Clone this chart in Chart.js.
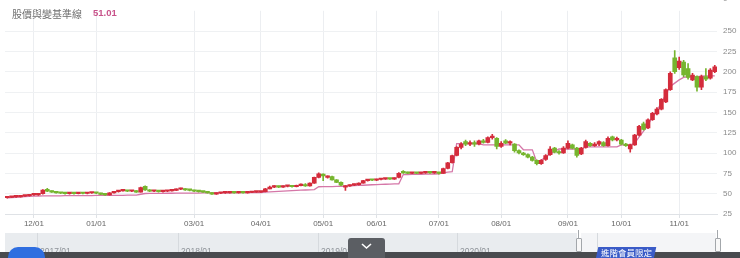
<!DOCTYPE html>
<html>
<head>
<meta charset="utf-8">
<script src="https://cdn.jsdelivr.net/npm/chart.js@4.4.0/dist/chart.umd.min.js"></script>
<style>
  body { margin: 0; background: #fff; font-family: "Liberation Sans", Arial, sans-serif; }
  #wrap { position: relative; width: 740px; height: 258px; overflow: hidden; background: #fff; }
  #chart { position: absolute; left: 0; top: 0; }
  .abs { position: absolute; }
  .title { left: 12px; top: 6px; font: 10px "Noto Sans CJK TC", sans-serif; color: #6e6e6e; }
  .val { left: 93px; top: 7px; font: 600 9.5px "Liberation Sans", Arial, sans-serif; color: #c8528a; }
  .zero { left: 723px; top: -6px; font: 8px "Liberation Sans", Arial, sans-serif; color: #8a8a8a; }
  .nav { top: 233px; height: 20px; }
  .sep { top: 233px; width: 1px; height: 20px; background: #d6dade; }
  .navlbl { top: 246px; font: 8.5px "Liberation Sans", Arial, sans-serif; color: #8d9298; }
  .handle { top: 238px; width: 4px; height: 12px; background: #f8f8f8; border: 1px solid #a3a7ab; border-radius: 1px; }
</style>
</head>
<body>
<div id="wrap">
  <canvas id="chart" width="740" height="232"></canvas>
  <div class="abs title">股價與變基準線</div>
  <div class="abs val">51.01</div>
  <div class="abs zero">0</div>

  <!-- navigator strip -->
  <div class="abs nav" style="left:5px;width:572px;background:#e9ecef;"></div>
  <div class="abs nav" style="left:581px;width:135px;background:#f4f5f7;"></div>
  <div class="abs sep" style="left:37px;"></div>
  <div class="abs sep" style="left:178px;"></div>
  <div class="abs sep" style="left:318px;"></div>
  <div class="abs sep" style="left:457px;"></div>
  <div class="abs sep" style="left:597px;"></div>
  <div class="abs navlbl" style="left:40px;">2017/01</div>
  <div class="abs navlbl" style="left:181px;">2018/01</div>
  <div class="abs navlbl" style="left:321px;">2019/01</div>
  <div class="abs navlbl" style="left:460px;">2020/01</div>
  <div class="abs" style="left:578px;top:230px;width:1px;height:8px;background:#a3a7ab;"></div>
  <div class="abs" style="left:717px;top:230px;width:1px;height:8px;background:#a3a7ab;"></div>
  <div class="abs handle" style="left:576px;"></div>
  <div class="abs handle" style="left:715px;"></div>
  <div class="abs" style="left:0;top:252px;width:740px;height:6px;background:#494b4f;"></div>
  <div class="abs" style="left:8px;top:247px;width:37px;height:14px;background:#2f6ee0;border-radius:10px 10px 0 0;"></div>
  <div class="abs" style="left:348px;top:238px;width:37px;height:20px;background:#5b5e63;border-radius:3px 3px 0 0;">
    <svg width="37" height="20"><polyline points="14,6 18.5,10 23,6" fill="none" stroke="#fff" stroke-width="1.6"/></svg>
  </div>
  <div class="abs" style="left:597px;top:247px;width:58px;height:12px;background:#3a5bc7;transform:skewX(-12deg);"></div>
  <div class="abs" style="left:601px;top:246px;font:8.5px 'Noto Sans CJK TC',sans-serif;color:#fff;">進階會員限定</div>
</div>

<script>
// ── Data (one candle per ~1.5 trading days) ────────────────────────────────
const opens = [
  45, 45.5, 46, 46, 47, 47.5, 48.5, 48.5, 50, 55.5,
  53, 52, 51, 50.5, 50, 50.5, 50, 50.8, 50.2, 50.8,
  51.2, 50.5, 49.2, 48.5, 51, 52.5, 53.5, 53.5, 53, 53.5,
  52, 59, 54.5, 53, 53, 52.5, 53, 53.5, 54, 55.5,
  56, 54.5, 54, 53, 52.5, 52, 51, 49.5, 50.5, 51,
  51, 51.5, 51, 51.5, 51, 51.5, 52, 52, 52.5, 56,
  58, 58.5, 58, 59, 59, 58.5, 60, 61, 59.5, 63,
  70, 74, 70, 71, 67, 64, 58, 59.5, 60.5, 61,
  63, 66, 67, 66.5, 67.5, 68, 68.5, 68, 70, 77,
  75.5, 75, 75.5, 75, 75.5, 76, 75.5, 75.5, 75, 81,
  88, 97, 107, 114, 111, 113, 111, 115, 113, 119,
  118, 108, 115, 112, 111, 103, 100, 98, 95, 91,
  87, 92, 98, 106, 101, 100, 106, 110, 106, 99,
  107, 112, 109, 111, 113, 109, 120, 116, 116, 111,
  105, 110, 122, 136, 131, 141, 148, 154, 163, 178,
  217, 205, 212, 204, 190, 194, 181, 194, 192, 200
];
const closes = [
  45.5, 46, 46, 47, 47.5, 48, 48.5, 50, 54.5, 53,
  52, 51, 50.5, 50, 50.5, 50, 50.8, 50.2, 50.8, 51.2,
  50.5, 49.2, 48.5, 51, 52.5, 53.5, 53.5, 53, 53.5, 52,
  57.5, 54.5, 53, 53, 52.5, 53, 53.5, 54, 55.5, 56,
  54.5, 54, 53, 52.5, 52, 51, 49.5, 50.5, 51, 51,
  51.5, 51, 51.5, 51, 51.5, 52, 52, 52.5, 56, 58,
  58.5, 58, 59, 59, 58.5, 60, 61, 59.5, 63, 70,
  74.5, 72, 71, 67, 64, 60.5, 59.5, 60.5, 61, 63,
  66, 67, 66.5, 67.5, 68, 68.5, 68, 69, 75, 75.5,
  75, 75.5, 75, 75.5, 76, 75.5, 75.5, 75, 81, 88,
  97, 107, 111, 111, 113, 111, 115, 113, 119, 121,
  108, 112, 112, 114, 103, 100, 98, 95, 91, 87,
  91, 97, 105, 101, 100, 106, 112, 106, 97, 106,
  114, 109, 111, 114, 109, 118, 116, 118, 111, 109,
  110, 122, 133, 129, 141, 149, 154, 166, 178, 198,
  200, 213, 196, 193, 196, 181, 194, 191, 202, 206
];
const highs = [
  46, 46.5, 46.8, 47.5, 48, 48.6, 49, 50.5, 55, 56.5,
  53.5, 52.3, 51.5, 51, 51, 51, 51.2, 51.2, 51.3, 51.8,
  51.5, 50.8, 49.5, 51.3, 53, 54, 54.2, 54, 54, 53.8,
  58, 59.8, 55, 53.5, 53.3, 53.5, 54, 54.5, 56, 57,
  56.3, 55, 54.3, 53.4, 53, 52.3, 51.2, 51, 51.5, 51.6,
  52, 52, 52, 51.8, 52, 52.5, 52.6, 53, 56.5, 59.5,
  60, 59.5, 59.8, 60, 59.6, 60.5, 62, 62.5, 63.5, 70.5,
  75.5, 74.5, 72, 71.5, 67.5, 64.5, 60, 61, 61.8, 63.5,
  66.5, 67.5, 67.5, 68, 68.6, 69, 69, 69.5, 76, 78.5,
  76.5, 76, 76, 76, 76.6, 76.5, 76.2, 76, 81.5, 88.5,
  97.5, 108, 113, 116, 115, 115, 116, 117, 120, 123,
  119, 114, 116.5, 115, 111.5, 104, 101, 99, 96, 91.5,
  92, 98, 108, 107, 103, 108, 115, 111, 107, 107,
  116, 113, 113, 115, 114, 120, 121, 119.5, 117, 112,
  111, 123, 134, 138, 142, 150, 156, 167, 179, 200,
  226, 218, 214, 210, 198, 195, 196, 204, 204, 208
];
const lows = [
  44.5, 45, 45.5, 45.8, 46.5, 47, 47.8, 48, 49.5, 52.5,
  51.5, 50.5, 50, 49.5, 49.5, 49.5, 49.6, 49.8, 49.8, 50.3,
  50, 48.8, 48, 48.2, 50.5, 52, 53, 52.5, 52.5, 51.5,
  51.8, 54, 52.5, 52.5, 52, 52, 52.6, 53, 53.8, 55,
  54, 53.5, 52.5, 52, 51.5, 50.5, 49, 49.2, 50, 50.4,
  50.6, 50.6, 50.6, 50.5, 50.7, 51.2, 51.5, 51.7, 52.3, 55.8,
  57.5, 57.5, 57.6, 58.2, 58, 58.2, 59.5, 59, 59.2, 62.5,
  69.5, 66, 69, 66.5, 63.5, 60, 54, 59, 60, 60.5,
  62.8, 65.5, 66, 66, 67, 67.5, 67.5, 67.5, 69.5, 75,
  74.5, 74.5, 74.5, 74.6, 75, 75, 75, 74, 74.8, 80.5,
  87.5, 96.5, 105, 109, 109, 108, 110, 112, 112.5, 117,
  105, 107, 111.5, 110, 101, 99, 97, 94, 90, 85.5,
  86, 91, 97, 100, 98.5, 99.5, 105, 105, 95, 98,
  106, 108, 108, 109, 108, 108.5, 115, 115, 110, 108,
  101, 109.5, 121, 128, 130, 140, 147, 153, 162, 177,
  198, 203, 194, 191, 189, 176, 178, 189, 191, 199
];
// pink baseline (steps up about once a month)
const baseline = [
  45, 45.3, 45.6, 46, 46.3, 46.6, 47, 47, 47.2, 47.3,
  47.3, 47.4, 47.4, 47.5, 47.5, 47.5, 47.6, 47.6, 47.7, 47.7,
  47.8, 47.8, 47.9, 47.9, 48, 48, 48, 48.1, 48.1, 48.2,
  49.3, 50.2, 50.3, 50.3, 50.4, 50.4, 50.5, 50.5, 50.6, 50.6,
  50.7, 50.7, 50.8, 50.8, 50.9, 50.9, 51, 51, 51, 51.1,
  51.1, 51.1, 51.2, 51.2, 51.2, 51.3, 51.3, 51.4, 51.8, 52.2,
  52.5, 52.8, 53.1, 53.4, 53.7, 54, 54.3, 54.5, 54.7, 55,
  58.5, 58.6, 58.7, 58.8, 58.9, 59, 59.1, 59.5, 59.8, 60.1,
  60.4, 60.7, 61, 61.2, 61.4, 61.6, 61.8, 62, 62.2, 73.5,
  73.6, 73.7, 73.8, 73.9, 74, 74.1, 74.2, 74.4, 75.5, 76.5,
  77, 111.5, 111.5, 111.5, 111.5, 111.5, 111.5, 110, 110, 110,
  110, 110, 110, 110, 110, 110, 104, 104, 104, 89,
  91, 95, 99, 102, 105, 105, 105, 105, 105, 105,
  107.5, 107.5, 107.5, 107.5, 107.5, 107.5, 107.5, 107.5, 110, 110,
  110, 112, 120, 127, 135, 144, 152, 162, 172, 182,
  186, 190, 193, 194, 194, 194, 194.5, 195, 195, 195
];
const monthIdx    = [6, 20, 42, 57, 71, 83, 97, 111, 126, 138, 151];
const monthLabels = ['12/01', '01/01', '03/01', '04/01', '05/01', '06/01', '07/01', '08/01', '09/01', '10/01', '11/01'];
const yTicks      = [25, 50, 75, 100, 125, 150, 175, 200, 225, 250];

// ── Chart ────────────────────────────────────────────────────────────────
const RED = '#d42c3c', GREEN = '#76b52e', PINK = '#d577a8';
const days   = closes.map((_, i) => String(i));
const colors = closes.map((c, i) => c >= opens[i] ? RED : GREEN);
const tickText = {};
monthIdx.forEach((v, k) => { tickText[v] = monthLabels[k]; });
const tickFont = { family: '"Liberation Sans", Arial, sans-serif', size: 8 };

new Chart(document.getElementById('chart'), {
  type: 'bar',
  data: {
    labels: days,
    datasets: [
      { type: 'line', data: baseline, borderColor: PINK, borderWidth: 1.3,
        pointRadius: 0, tension: 0, order: 3 },
      { data: lows.map((l, i) => [l, highs[i]]), backgroundColor: colors,
        barThickness: 1, grouped: false, order: 2 },
      { data: opens.map((o, i) => [o, closes[i]]), backgroundColor: colors,
        barThickness: 4, minBarLength: 1.5, grouped: false, order: 1 },
    ],
  },
  options: {
    responsive: false,
    animation: false,
    devicePixelRatio: 1,
    layout: { padding: { left: 5, top: 6, right: 0, bottom: 0 } },
    plugins: { legend: { display: false }, tooltip: { enabled: false } },
    scales: {
      x: {
        offset: true,
        grid: { offset: false, color: '#eceef1', tickLength: 4, tickColor: '#dfe2e6' },
        border: { display: true, color: '#dfe2e6' },
        ticks: { autoSkip: false, maxRotation: 0, padding: 1, font: tickFont, color: '#666',
                 callback: v => tickText[v] || '' },
        afterBuildTicks: s => { s.ticks = monthIdx.map(v => ({ value: v })); },
        afterFit: s => { s.height = 18; },
      },
      y: {
        position: 'right',
        min: 25,
        max: 275,
        grid: { color: '#eff1f3', drawTicks: false },
        border: { display: false },
        ticks: { padding: 6, font: tickFont, color: '#8a8a8a' },
        afterBuildTicks: s => { s.ticks = yTicks.map(v => ({ value: v })); },
        afterFit: s => { s.width = 23; },
      },
    },
  },
});
</script>
</body>
</html>
